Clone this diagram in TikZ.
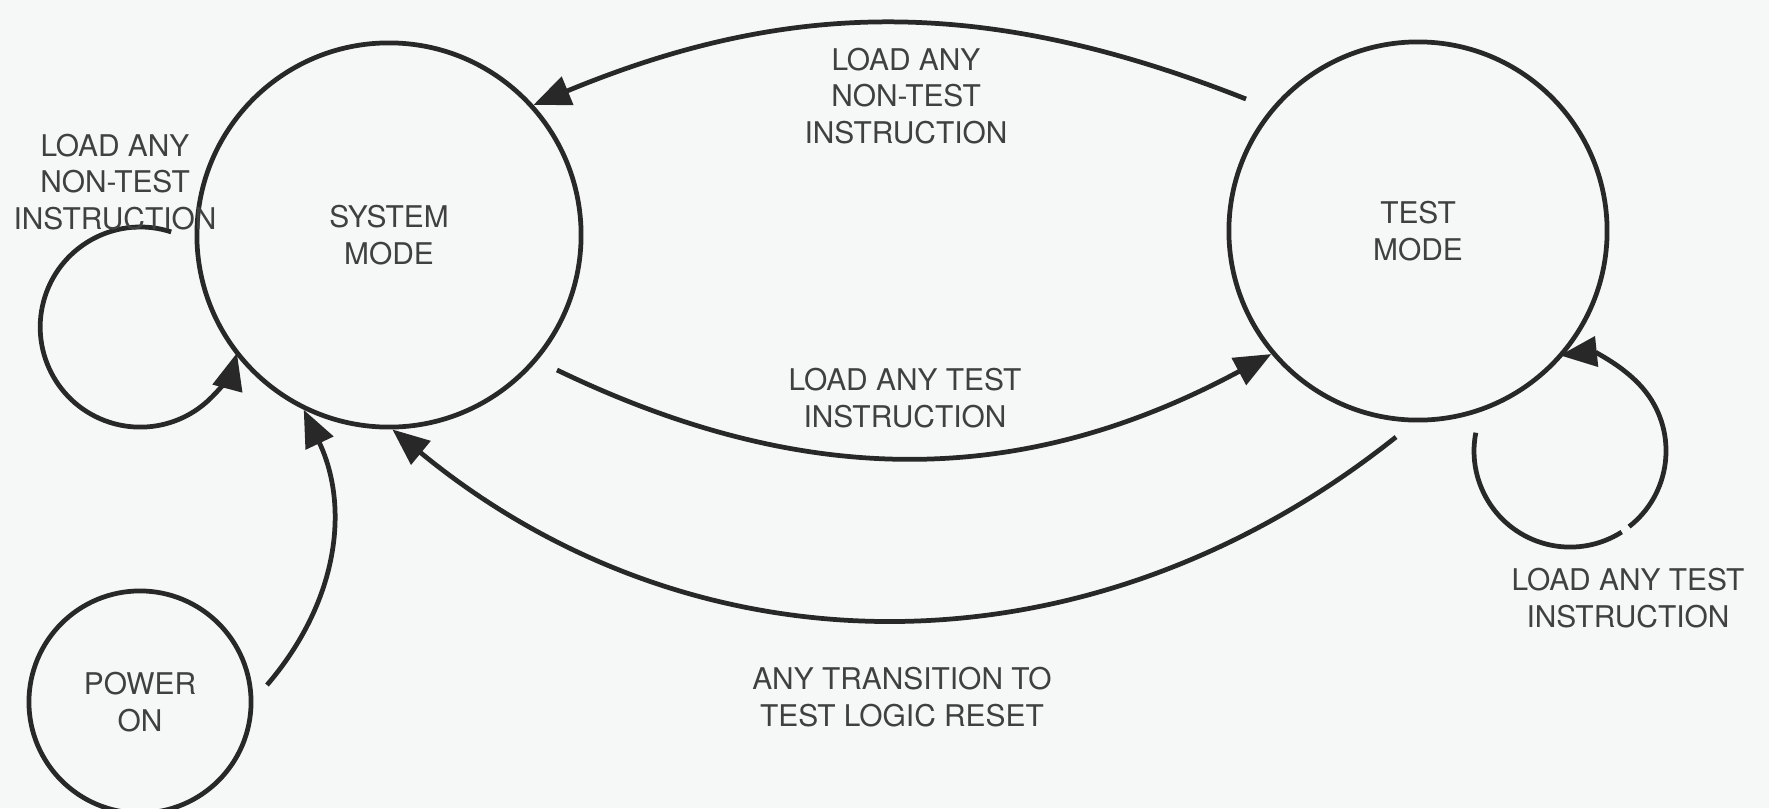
\documentclass[tikz,border=0pt]{standalone}
\usepackage{fontspec}
\setmainfont{TeX Gyre Heros}
\usetikzlibrary{arrows.meta}
\definecolor{ink}{RGB}{40,40,40}
\definecolor{txt}{RGB}{64,64,64}
\definecolor{paper}{RGB}{246,247,247}

\begin{document}
\begin{tikzpicture}[x=0.01cm, y=0.01cm,
  state/.style={circle, draw=ink, line width=1.35pt, inner sep=0pt,
    text=txt, align=center, font=\fontsize{8.5}{10.3}\selectfont},
  lbl/.style={text=txt, align=center, inner sep=0pt,
    font=\fontsize{8.5}{10.3}\selectfont},
  wire/.style={draw=ink, line width=1.35pt},
  arr/.style={wire, -{Triangle[length=10.5pt, width=8.5pt]}}]

% canvas
\fill[paper] (0,0) rectangle (1769,808);
\useasboundingbox (0,0) rectangle (1769,808);

% states
\node[state, minimum size=3.84cm] (sys)   at (389,573)  {SYSTEM\\MODE};
\node[state, minimum size=3.78cm] (test)  at (1418,577) {TEST\\MODE};
\node[state, minimum size=2.22cm] (power) at (140,106)  {POWER\\ON};

% loose ends of the transitions
\coordinate (topStart)      at (1246,709);
\coordinate (midStart)      at (557,438);
\coordinate (botStart)      at (1396,371);
\coordinate (pwrStart)      at (267,123);
\coordinate (sysLoopStart)  at (171.2,576.1);
\coordinate (testLoopStart) at (1475.8,375.3);
\coordinate (testLoopGap)   at (1629.1,281.4);

% transitions between the modes
\draw[arr] (topStart) to[bend right=22] (sys.42);
\draw[arr] (midStart) to[bend right=27] (test.220);
\draw[arr] (botStart) to[bend left=39]  (sys.271);
\draw[arr] (pwrStart) to[bend right=33] (sys.244);

% self loops
\draw[arr] (sysLoopStart) arc[start angle=72, end angle=345, radius=1.0cm];
\draw[wire] (testLoopStart) arc[start angle=169, end angle=302.5, radius=0.96cm];
\draw[arr] (testLoopGap) arc[start angle=308, end angle=456, radius=0.96cm];

% transition labels
\node[lbl] (lblTop) at (906,712) {LOAD ANY\\NON-TEST\\INSTRUCTION};
\node[lbl] (lblMid) at (905,410) {LOAD ANY TEST\\INSTRUCTION};
\node[lbl] (lblBot) at (902,111) {ANY TRANSITION TO\\TEST LOGIC RESET};
\node[lbl] (lblSys) at (115,626) {LOAD ANY\\NON-TEST\\INSTRUCTION};
\node[lbl] (lblTst) at (1628,210) {LOAD ANY TEST\\INSTRUCTION};
\end{tikzpicture}
\end{document}
